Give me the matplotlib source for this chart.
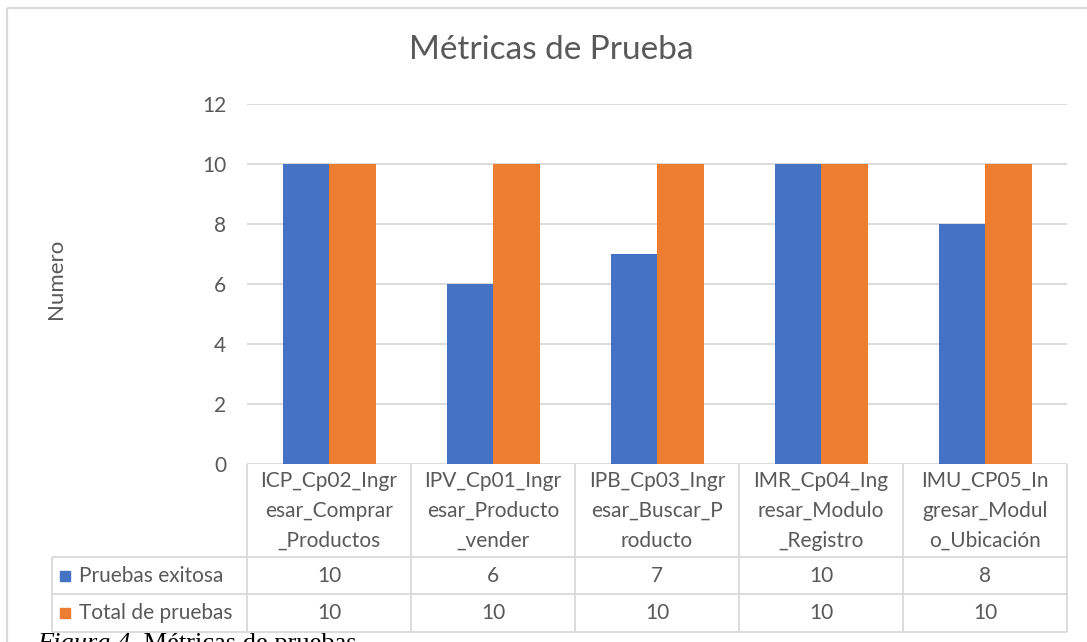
import matplotlib
matplotlib.use("Agg")
import matplotlib.pyplot as plt
from matplotlib.patches import Rectangle
import numpy as np

# ---------------- data ----------------
categories = [
    "ICP_Cp02_Ingr\nesar_Comprar\n_Productos",
    "IPV_Cp01_Ingr\nesar_Producto\n_vender",
    "IPB_Cp03_Ingr\nesar_Buscar_P\nroducto",
    "IMR_Cp04_Ing\nresar_Modulo\n_Registro",
    "IMU_CP05_In\ngresar_Modul\no_Ubicación",
]
series_names = ["Pruebas exitosa", "Total de pruebas"]
pruebas_exitosa = [10, 6, 7, 10, 8]
total_de_pruebas = [10, 10, 10, 10, 10]
y_ticks = [0, 2, 4, 6, 8, 10, 12]
title = "Métricas de Prueba"
y_label = "Numero"
caption_italic = "Figura 4."
caption_rest = " Métricas de pruebas"

colors = ["#4472C4", "#ED7D31"]
text_col = "#595959"
grid_col = "#D9D9D9"

plt.rcParams["font.family"] = ["Lato", "DejaVu Sans"]
FS = 15

W, H = 1087, 642
fig = plt.figure(figsize=(W / 100, H / 100), dpi=100)

def fx(px):
    return px / W

def fy(py):
    return 1 - py / H

# plot area geometry (pixels)
PL, PR, PT, PB = 247, 1067, 104, 464
ax = fig.add_axes([fx(PL), fy(PB), fx(PR) - fx(PL), fy(PT) - fy(PB)])

x = np.arange(len(categories))
bw = 46.5 / 164
ax.bar(x - bw / 2, pruebas_exitosa, bw, color=colors[0], zorder=3)
ax.bar(x + bw / 2, total_de_pruebas, bw, color=colors[1], zorder=3)
ax.set_xlim(-0.5, len(categories) - 0.5)
ax.set_ylim(y_ticks[0], y_ticks[-1])
ax.set_yticks(y_ticks)
ax.set_xticks([])
ax.grid(axis="y", color=grid_col, linewidth=1.3, zorder=0)
for s in ax.spines.values():
    s.set_visible(False)
ax.tick_params(axis="y", length=0, pad=15, labelsize=FS, labelcolor=text_col)

# overlay axes in pixel coordinates for table, border, labels
ov = fig.add_axes([0, 0, 1, 1], zorder=5)
ov.set_xlim(0, W)
ov.set_ylim(H, 0)
ov.axis("off")
ov.patch.set_alpha(0)

lw = 1.3
# outer chart border
ov.plot([7, W + 5], [8, 8], color=grid_col, lw=1.6, solid_capstyle="butt")
ov.plot([7, 7], [8, H + 5], color=grid_col, lw=1.6, solid_capstyle="butt")

# title & y label
ov.text(551, 50, title, ha="center", va="center", fontsize=24, color=text_col)
ov.text(56, 279, y_label, ha="center", va="center", rotation=90,
        fontsize=16, color=text_col)

# data table
n = len(categories)
colw = (PR - PL) / n
col_edges = [PL + i * colw for i in range(n + 1)]
r_head_bot, r1_bot, r2_bot = 557, 594, 632
TL = 52
for xe in col_edges:
    ov.plot([xe, xe], [PB, r2_bot], color=grid_col, lw=lw, solid_capstyle="butt")
ov.plot([TL, TL], [r_head_bot, r2_bot], color=grid_col, lw=lw, solid_capstyle="butt")
for ye in (r_head_bot, r1_bot, r2_bot):
    ov.plot([TL, PR], [ye, ye], color=grid_col, lw=lw, solid_capstyle="butt")

# category header cells
for i, lab in enumerate(categories):
    cx = (col_edges[i] + col_edges[i + 1]) / 2
    for j, line in enumerate(lab.split("\n")):
        ov.text(cx, 481 + j * 30, line, ha="center", va="center",
                fontsize=FS, color=text_col)

# series rows
row_centers = [(r_head_bot + r1_bot) / 2, (r1_bot + r2_bot) / 2]
for k, (name, vals) in enumerate(zip(series_names, [pruebas_exitosa, total_de_pruebas])):
    cy = row_centers[k]
    ov.add_patch(Rectangle((60, cy - 5), 10, 10, color=colors[k]))
    ov.text(79, cy, name, ha="left", va="center", fontsize=FS, color=text_col)
    for i, v in enumerate(vals):
        cx = (col_edges[i] + col_edges[i + 1]) / 2
        ov.text(cx, cy, str(v), ha="center", va="center", fontsize=FS, color=text_col)

# caption (partially cut off at bottom as in reference)
t1 = ov.text(37, 650, caption_italic, ha="left", va="baseline", fontsize=19,
             family="Liberation Serif", style="italic", color="black")
fig.canvas.draw()
bb = t1.get_window_extent()
x_end = ov.transData.inverted().transform((bb.x1, bb.y0))[0]
ov.text(x_end, 650, caption_rest, ha="left", va="baseline", fontsize=19,
        family="Liberation Serif", color="black")

fig.savefig("out.png", dpi=100, facecolor="white")
